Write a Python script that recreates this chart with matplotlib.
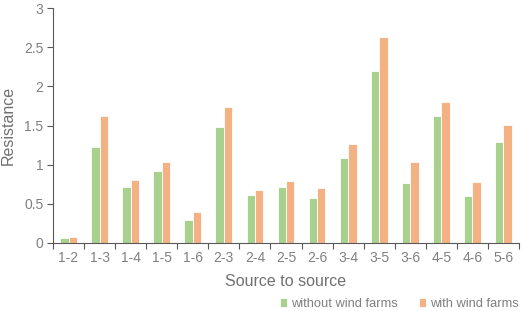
import matplotlib.pyplot as plt
import numpy as np

pairs = ['1-2', '1-3', '1-4', '1-5', '1-6', '2-3', '2-4', '2-5', '2-6',
         '3-4', '3-5', '3-6', '4-5', '4-6', '5-6']
without_wind = [0.07, 1.22, 0.72, 0.92, 0.29, 1.48, 0.61, 0.71, 0.57,
                1.09, 2.19, 0.77, 1.62, 0.60, 1.29]
with_wind = [0.08, 1.62, 0.80, 1.03, 0.39, 1.73, 0.68, 0.79, 0.70,
             1.26, 2.63, 1.04, 1.80, 0.78, 1.51]

plt.rcParams['font.family'] = ['Liberation Sans', 'DejaVu Sans']
text_gray = '#808080'
axis_gray = '#595959'

fig = plt.figure(figsize=(5.25, 3.11), dpi=100)
ax = fig.add_axes([53 / 525, 1 - 243 / 311, 466 / 525, 235 / 311])

x = np.arange(len(pairs))
w = 0.27
ax.bar(x - w / 2, without_wind, w, color='#A9D18E', edgecolor='white',
       linewidth=0.6, label='without wind farms')
ax.bar(x + w / 2, with_wind, w, color='#F4B183', edgecolor='white',
       linewidth=0.6, label='with wind farms')

ax.set_xlim(-0.5, len(pairs) - 0.5)
ax.set_ylim(0, 3)
ax.set_yticks([0, 0.5, 1, 1.5, 2, 2.5, 3])
ax.set_yticklabels(['0', '0.5', '1', '1.5', '2', '2.5', '3'])
ax.set_xticks(x)
ax.set_xticklabels(pairs)
ax.set_xticks(np.arange(-0.5, len(pairs)), minor=True)
ax.tick_params(axis='x', which='major', length=0, pad=6)
ax.tick_params(axis='x', which='minor', length=4, color=axis_gray, width=0.8)
ax.tick_params(axis='y', length=4, color=axis_gray, width=0.8, pad=3)
ax.tick_params(labelsize=10, labelcolor=text_gray)

for s in ['top', 'right']:
    ax.spines[s].set_visible(False)
for s in ['left', 'bottom']:
    ax.spines[s].set_color(axis_gray)
    ax.spines[s].set_linewidth(0.8)

ax.set_xlabel('Source to source', fontsize=11.5, color='#707070', labelpad=6)
ax.set_ylabel('Resistance', fontsize=11.5, color='#707070', labelpad=6)

ax.legend(loc='center right', bbox_to_anchor=(1.0, -0.26), ncol=2, frameon=False,
          fontsize=9.3, labelcolor=text_gray, handlelength=0.6, handleheight=0.6,
          handletextpad=0.3, columnspacing=1.6, borderaxespad=0, borderpad=0)

fig.savefig('out.png', dpi=100)
